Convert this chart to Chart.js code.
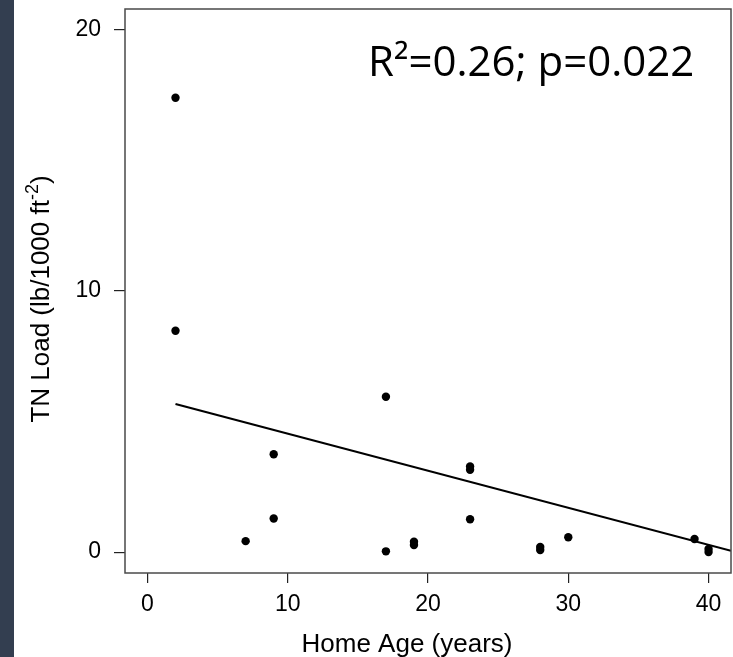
<!DOCTYPE html>
<html lang="en">
<head>
  <meta charset="UTF-8">
  <title>TN Load vs Home Age</title>
  <script src="https://cdn.jsdelivr.net/npm/chart.js"></script>
  <style>
    html, body { margin: 0; padding: 0; background: #fff; }
    #wrap { position: relative; width: 733px; height: 657px; }
    #strip { position: absolute; left: 0; top: 0; width: 14px; height: 657px; background: #333e50; }
    #chart { position: absolute; left: 0; top: 0; }
  </style>
</head>
<body>
  <div id="wrap">
    <canvas id="chart" width="733" height="657"></canvas>
    <div id="strip"></div>
  </div>

  <script>
    // home age (years) and total nitrogen load (lb/1000 ft^-2) per site
    const homeAge = [2, 2, 7, 9, 9, 17, 17, 19, 19, 23, 23, 23, 28, 28, 30, 39, 40, 40];
    const tnLoad  = [17.4, 8.48, 0.42, 3.75, 1.29, 5.95, 0.03, 0.27, 0.4, 3.28, 3.15, 1.26, 0.2, 0.08, 0.57, 0.5, 0.12, 0.0];

    // fitted trend line, two ends
    const fitX = [2, 41.6];
    const fitY = [5.67, 0.05];

    const xTicks = [0, 10, 20, 30, 40];
    const yTicks = [0, 10, 20];

    const statText = "R\u00b2=0.26; p=0.022";

    const points = homeAge.map((x, i) => ({ x, y: tnLoad[i] }));
    const fitLine = fitX.map((x, i) => ({ x, y: fitY[i] }));

    const tickFont = { family: "'Liberation Sans', Arial, sans-serif", size: 23 };

    // box round the plot, axis titles and the fit statistics
    const frame = {
      id: 'frame',
      afterDraw(chart) {
        const { ctx, chartArea: a } = chart;
        ctx.save();
        ctx.strokeStyle = '#4a4a4a';
        ctx.lineWidth = 1.5;
        ctx.strokeRect(a.left, a.top, a.right - a.left, a.bottom - a.top);

        ctx.fillStyle = '#000';
        ctx.font = "26px 'Liberation Sans', Arial, sans-serif";
        ctx.textAlign = 'center';
        ctx.textBaseline = 'alphabetic';
        ctx.fillText('Home Age (years)', 407, 652);

        // y title with superscript exponent
        const main = 'TN Load (lb/1000 ft';
        const sup = '-2';
        const tail = ')';
        ctx.font = "26px 'Liberation Sans', Arial, sans-serif";
        const wMain = ctx.measureText(main).width;
        const wTail = ctx.measureText(tail).width;
        ctx.font = "18px 'Liberation Sans', Arial, sans-serif";
        const wSup = ctx.measureText(sup).width;
        const total = wMain + wSup + wTail;
        ctx.translate(49, 299);
        ctx.rotate(-Math.PI / 2);
        ctx.textAlign = 'left';
        let px = -total / 2;
        ctx.font = "26px 'Liberation Sans', Arial, sans-serif";
        ctx.fillText(main, px, 0);
        px += wMain;
        ctx.font = "18px 'Liberation Sans', Arial, sans-serif";
        ctx.fillText(sup, px, -11);
        px += wSup;
        ctx.font = "26px 'Liberation Sans', Arial, sans-serif";
        ctx.fillText(tail, px, 0);
        ctx.restore();

        ctx.save();
        ctx.fillStyle = '#000';
        ctx.font = "42px 'Open Sans', sans-serif";
        ctx.textAlign = 'left';
        ctx.textBaseline = 'alphabetic';
        ctx.fillText(statText, 368, 76);
        ctx.restore();
      }
    };

    new Chart(document.getElementById('chart').getContext('2d'), {
      type: 'scatter',
      data: {
        datasets: [
          {
            data: fitLine,
            showLine: true,
            borderColor: '#000',
            borderWidth: 2.2,
            pointRadius: 0,
            fill: false
          },
          {
            data: points,
            backgroundColor: '#000',
            borderWidth: 0,
            pointRadius: 4.2,
            pointHoverRadius: 4.2
          }
        ]
      },
      options: {
        responsive: false,
        animation: false,
        events: [],
        layout: { autoPadding: false, padding: { left: 0, top: 9, right: 2, bottom: 0 } },
        plugins: { legend: { display: false }, tooltip: { enabled: false } },
        scales: {
          x: {
            type: 'linear',
            min: -1.6,
            max: 41.6,
            afterFit(scale) {
              scale.height = 84;
              scale.paddingLeft = 0;
              scale.paddingRight = 0;
            },
            afterBuildTicks(scale) { scale.ticks = xTicks.map(v => ({ value: v })); },
            border: { display: false },
            grid: { drawOnChartArea: false, drawTicks: true, tickLength: 10, color: '#222', lineWidth: 1.2 },
            ticks: { color: '#000', font: tickFont, padding: 8, maxRotation: 0 }
          },
          y: {
            type: 'linear',
            min: -0.8,
            max: 20.8,
            afterFit(scale) {
              scale.width = 125;
              scale.paddingTop = 0;
              scale.paddingBottom = 0;
            },
            afterBuildTicks(scale) { scale.ticks = yTicks.map(v => ({ value: v })); },
            border: { display: false },
            grid: { drawOnChartArea: false, drawTicks: true, tickLength: 11, color: '#222', lineWidth: 1.2 },
            ticks: { color: '#000', font: tickFont, padding: 13 }
          }
        }
      },
      plugins: [frame]
    });
  </script>
</body>
</html>
